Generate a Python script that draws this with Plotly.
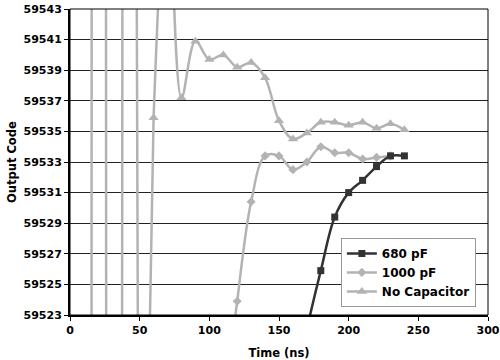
import plotly.graph_objects as go

# ---- data ----
time_nocap = [10, 20, 30, 40, 50, 60, 70, 80, 90, 100, 110, 120, 130, 140, 150,
              160, 170, 180, 190, 200, 210, 220, 230, 240]
code_nocap = [58325, 60522, 58846, 59762, 59486, 59535.9, 59552, 59537.2, 59540.9,
              59539.7, 59540.0, 59539.2, 59539.5, 59538.5, 59535.7, 59534.5,
              59534.9, 59535.6, 59535.6, 59535.4, 59535.6, 59535.2, 59535.5, 59535.1]

time_1000 = [110, 120, 130, 140, 150, 160, 170, 180, 190, 200, 210, 220, 230]
code_1000 = [59516, 59523.9, 59530.4, 59533.4, 59533.4, 59532.5, 59533.0, 59534.0,
             59533.6, 59533.6, 59533.2, 59533.3, 59533.4]

time_680 = [160, 170, 180, 190, 200, 210, 220, 230, 240]
code_680 = [59518, 59522.1, 59525.9, 59529.4, 59531.0, 59531.8, 59532.7, 59533.4, 59533.4]

x_ticks = [0, 50, 100, 150, 200, 250, 300]
y_ticks = [59523, 59525, 59527, 59529, 59531, 59533, 59535, 59537, 59539, 59541, 59543]

FONT = "DejaVu Sans"
gray = "#b3b3b3"
dark = "#333333"

# index where the "No Capacitor" ringing settles into the visible range
split = time_nocap.index(60)

fig = go.Figure()
# early large-amplitude ringing (drawn straight; it only crosses the plot vertically)
fig.add_trace(go.Scatter(
    x=time_nocap[:split + 1], y=code_nocap[:split + 1], name="No Capacitor",
    showlegend=False, hoverinfo="skip",
    mode="lines", line=dict(color=gray, width=2.5)))
fig.add_trace(go.Scatter(
    x=time_nocap[split:], y=code_nocap[split:], name="No Capacitor", legendrank=3,
    mode="lines+markers", line=dict(color=gray, width=2.5, shape="spline", smoothing=1),
    marker=dict(symbol="triangle-up", size=9, color=gray)))
fig.add_trace(go.Scatter(
    x=time_1000, y=code_1000, name="1000 pF", legendrank=2,
    mode="lines+markers", line=dict(color=gray, width=2.5, shape="spline", smoothing=1),
    marker=dict(symbol="diamond", size=7, color=gray)))
fig.add_trace(go.Scatter(
    x=time_680, y=code_680, name="680 pF", legendrank=1,
    mode="lines+markers", line=dict(color=dark, width=2.5, shape="spline", smoothing=1),
    marker=dict(symbol="square", size=7, color=dark)))

fig.update_layout(
    width=500, height=360,
    margin=dict(l=70, r=12, t=9, b=45, autoexpand=False),
    paper_bgcolor="white", plot_bgcolor="white",
    font=dict(family=FONT, size=11, color="black"),
    showlegend=True,
    legend=dict(x=0.648, y=0.252, xanchor="left", yanchor="top",
                bgcolor="white", bordercolor="#999999", borderwidth=1,
                font=dict(family=FONT, size=12, color="black", weight="bold"),
                itemwidth=30, tracegroupgap=0),
    xaxis=dict(range=[0, 300], tickvals=x_ticks, ticktext=[str(v) for v in x_ticks],
               showgrid=False, zeroline=False, automargin=False,
               showline=True, linecolor="black", linewidth=2,
               ticks="outside", ticklen=4, tickcolor="black", tickwidth=1,
               tickfont=dict(family=FONT, size=11, weight="bold"),
               title=dict(text="Time (ns)",
                          font=dict(family=FONT, size=11.5, weight="bold"))),
    yaxis=dict(range=[59523, 59543], tickvals=y_ticks, ticktext=[str(v) for v in y_ticks],
               showgrid=True, gridcolor="#222222", gridwidth=1, zeroline=False,
               automargin=False,
               showline=True, linecolor="black", linewidth=2,
               ticks="outside", ticklen=4, tickcolor="black", tickwidth=1,
               tickfont=dict(family=FONT, size=11, weight="bold")),
    annotations=[dict(text="Output Code", textangle=-90, xref="paper", yref="paper",
                      x=(12 - 70) / 418, y=0.5, xanchor="center", yanchor="middle",
                      showarrow=False, font=dict(family=FONT, size=11.5, weight="bold"))],
    shapes=[dict(type="rect", xref="paper", yref="paper", x0=0, x1=1, y0=0, y1=1,
                 line=dict(color="black", width=1), layer="above")],
)

fig.write_html("out.html", config={"displayModeBar": False},
               post_script="document.body.style.margin='0';document.body.style.overflow='hidden';")
